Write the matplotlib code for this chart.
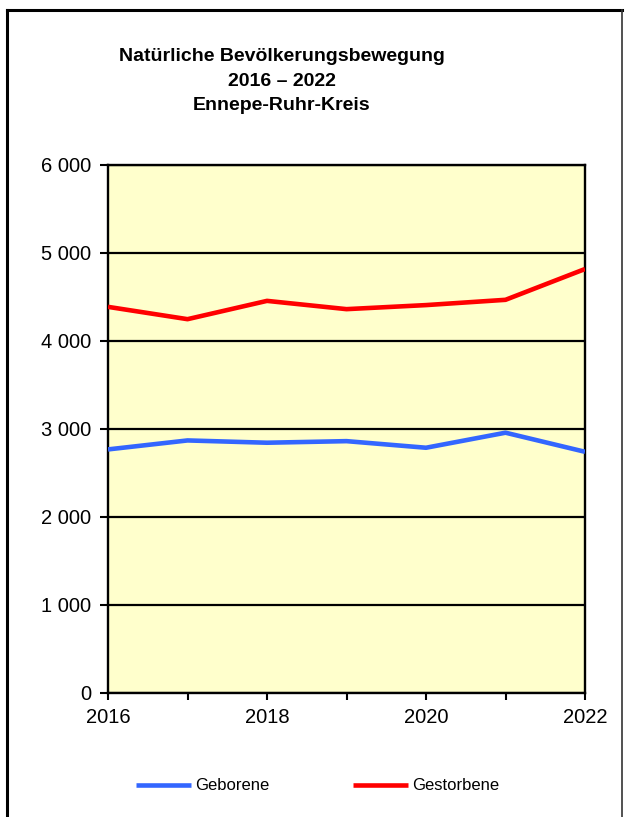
import matplotlib
matplotlib.use("Agg")
import matplotlib.pyplot as plt
from matplotlib.lines import Line2D

plt.rcParams['font.family'] = ['Liberation Sans', 'DejaVu Sans']

years = [2016, 2017, 2018, 2019, 2020, 2021, 2022]
geborene = [2768, 2870, 2844, 2862, 2787, 2958, 2741]
gestorbene = [4388, 4248, 4456, 4362, 4408, 4468, 4818]
yticks = [0, 1000, 2000, 3000, 4000, 5000, 6000]
title = "Natürliche Bevölkerungsbewegung\n2016 – 2022\nEnnepe-Ruhr-Kreis"

W, H = 625, 817
fig = plt.figure(figsize=(W / 100, H / 100), dpi=100)
ax = fig.add_axes([108 / W, 1 - 693 / H, (585 - 108) / W, (693 - 165) / H])
ax.set_facecolor('#FFFFCC')

l1, = ax.plot(years, geborene, color='#3366FF', lw=3.3, solid_capstyle='butt', zorder=3, label='Geborene')
l2, = ax.plot(years, gestorbene, color='#FF0000', lw=3.3, solid_capstyle='butt', zorder=3, label='Gestorbene')

ax.set_xlim(years[0], years[-1])
ax.set_ylim(yticks[0], yticks[-1])
ax.set_yticks(yticks)
ax.set_yticklabels([f"{v:,}".replace(",", " ") for v in yticks])
ax.set_xticks(years)
ax.set_xticklabels([str(y) if (y - years[0]) % 2 == 0 else "" for y in years])
ax.grid(axis='y', color='black', lw=1.6, zorder=1)
ax.set_axisbelow(True)
for s in ax.spines.values():
    s.set_linewidth(1.7)
    s.set_color('black')
ax.tick_params(axis='y', length=6, width=1.5, pad=6, labelsize=14.5)
ax.tick_params(axis='x', length=5, width=1.5, pad=6, labelsize=14.5)

fig.text(0.451, 1 - 81 / H, title, ha='center', va='center', fontsize=14,
         fontweight='bold', linespacing=1.6)

fig.legend(handles=[l1, l2], loc='center', bbox_to_anchor=(317.5 / W, 1 - 786 / H),
           ncol=2, frameon=False, fontsize=12, handlelength=3.3, handletextpad=0.25,
           columnspacing=5.0)

# outer frame
fig.add_artist(Line2D([7 / W, 7 / W], [0, 1 - 10 / H], transform=fig.transFigure, color='black', lw=2.2))
fig.add_artist(Line2D([7 / W, 622 / W], [1 - 10 / H, 1 - 10 / H], transform=fig.transFigure, color='black', lw=2.2))
fig.add_artist(Line2D([622 / W, 622 / W], [0, 1 - 10 / H], transform=fig.transFigure, color='#333333', lw=1.2))

fig.savefig('out.png', dpi=100)
